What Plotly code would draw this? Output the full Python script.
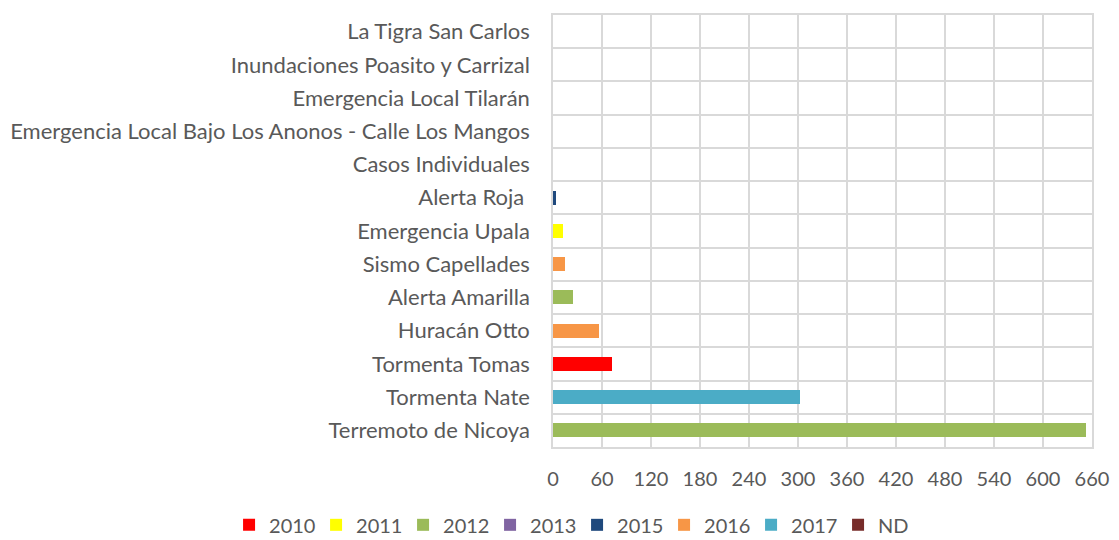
import plotly.graph_objects as go

categories = [
    "Terremoto de Nicoya",
    "Tormenta Nate",
    "Tormenta Tomas",
    "Huracán Otto",
    "Alerta Amarilla",
    "Sismo Capellades",
    "Emergencia Upala",
    "Alerta Roja\u00a0",
    "Casos Individuales",
    "Emergencia Local Bajo Los Anonos - Calle Los Mangos",
    "Emergencia Local Tilarán",
    "Inundaciones Poasito y Carrizal",
    "La Tigra San Carlos",
]

v2010 = [None, None, 72, None, None, None, None, None, None, None, None, None, None]
v2011 = [None, None, None, None, None, None, 12, None, None, None, None, None, None]
v2012 = [653, None, None, None, 25, None, None, None, None, None, None, None, None]
v2013 = [None, None, None, None, None, None, None, None, None, None, None, None, None]
v2015 = [None, None, None, None, None, None, None, 4, None, None, None, None, None]
v2016 = [None, None, None, 56, None, 15, None, None, None, None, None, None, None]
v2017 = [None, 302, None, None, None, None, None, None, None, None, None, None, None]
vND = [None, None, None, None, None, None, None, None, 0, 0, 0, 0, 0]

series_names = ["2010", "2011", "2012", "2013", "2015", "2016", "2017", "ND"]
series_values = [v2010, v2011, v2012, v2013, v2015, v2016, v2017, vND]
colors = ["#FF0000", "#FFFF00", "#9BBB59", "#8064A2", "#1F497D", "#F79646", "#4BACC6", "#772C2A"]

x_ticks = [0, 60, 120, 180, 240, 300, 360, 420, 480, 540, 600, 660]

fig = go.Figure()
for name, vals, col in zip(series_names, series_values, colors):
    fig.add_trace(go.Bar(
        y=categories, x=vals, name=name, orientation="h",
        marker=dict(color=col, line=dict(width=0)),
    ))

font_family = "Lato, 'Open Sans', sans-serif"
fig.update_layout(
    barmode="stack",
    bargap=0.58,
    width=1119, height=540,
    margin=dict(l=553, r=27, t=15, b=93, autoexpand=False),
    paper_bgcolor="white", plot_bgcolor="white",
    font=dict(family=font_family, size=20, color="#595959"),
    showlegend=True,
    legend=dict(orientation="h", x=-0.601, xanchor="left", xref="paper",
                y=-0.135, yanchor="top", yref="paper",
                bgcolor="rgba(0,0,0,0)",
                font=dict(size=20, color="#595959"),
                itemwidth=30, entrywidth=42, entrywidthmode="pixels",
                traceorder="normal"),
    xaxis=dict(range=[0, 660], tickvals=x_ticks, showgrid=True, gridcolor="#D9D9D9",
               gridwidth=1.5, zeroline=False, showline=True, linecolor="#D9D9D9",
               linewidth=1.5, mirror=True, ticklabelstandoff=13, automargin=False,
               tickfont=dict(size=20, color="#595959")),
    yaxis=dict(type="category", categoryorder="array", categoryarray=categories,
               tickson="boundaries", ticks="", showgrid=True, gridcolor="#D9D9D9",
               gridwidth=1.5, showline=True, linecolor="#D9D9D9", linewidth=1.5,
               mirror=True, ticklabelstandoff=17, automargin=False,
               tickfont=dict(size=22, color="#595959")),
)

fig.write_html("out.html", config={"displayModeBar": False},
               post_script="document.body.style.margin='0';document.body.style.overflow='hidden';")
